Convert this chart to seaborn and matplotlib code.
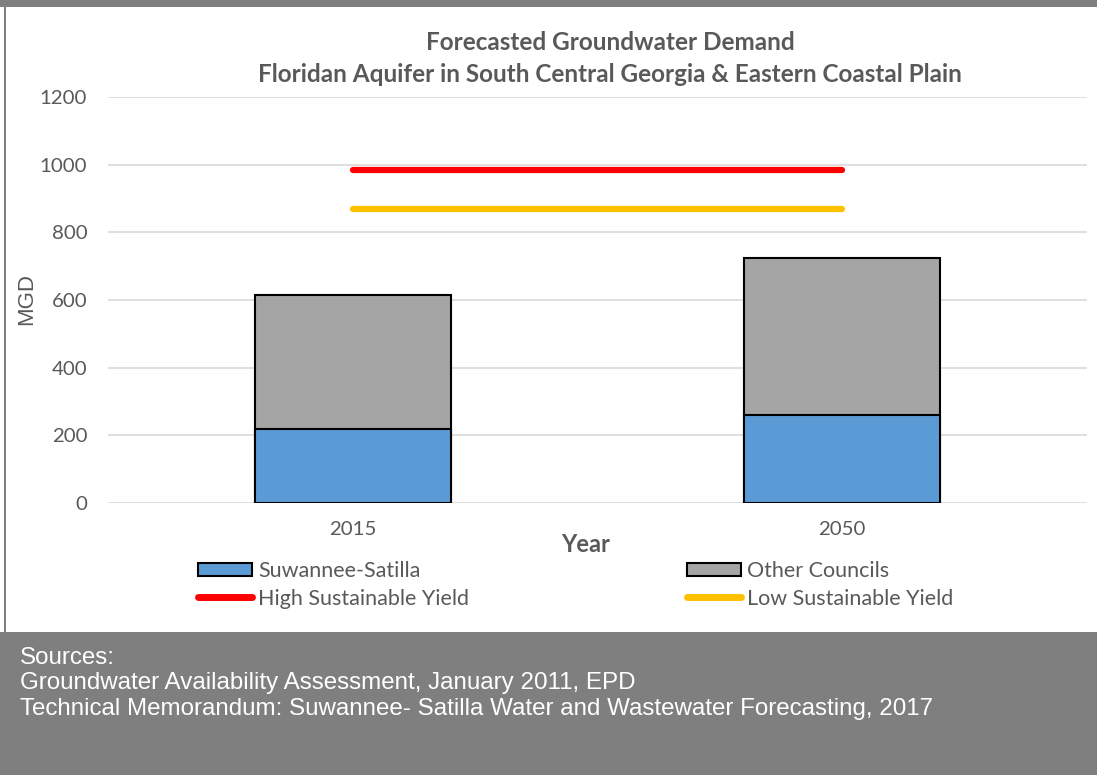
import numpy as np
import pandas as pd
import matplotlib.pyplot as plt
import seaborn as sns
from matplotlib.patches import Rectangle, Patch
from matplotlib.lines import Line2D

# datos
years = ["2015", "2050"]
suwannee = [219, 260]
other_councils = [396, 464]
high_yield = [984, 984]
low_yield = [869, 869]

df = pd.DataFrame({"Year": years, "Suwannee": suwannee, "Other": other_councils})
df["Total"] = df["Suwannee"] + df["Other"]

sns.set_theme(style="white")
plt.rcParams["font.family"] = ["Lato", "DejaVu Sans"]

W, H = 1097, 775
fig = plt.figure(figsize=(W / 100, H / 100), dpi=100)
fig.patch.set_facecolor("white")

# marco gris y pie
fig.patches.append(Rectangle((0, 0), 1, (H - 632) / H, transform=fig.transFigure,
                             facecolor="#7f7f7f", edgecolor="none", zorder=-4))
fig.patches.append(Rectangle((0, 1 - 7 / H), 1, 7 / H, transform=fig.transFigure,
                             facecolor="#7f7f7f", edgecolor="none", zorder=-4))
fig.patches.append(Rectangle((4 / W, 0), 2 / W, 1, transform=fig.transFigure,
                             facecolor="#7f7f7f", edgecolor="none", zorder=-4))

ax = fig.add_axes([108 / W, 1 - 503 / H, (1087 - 108) / W, (503 - 97) / H])
ax.set_facecolor("white")

sns.barplot(data=df, x="Year", y="Total", color="#a5a5a5", width=0.4,
            edgecolor="black", linewidth=1.5, saturation=1, ax=ax, zorder=3)
sns.barplot(data=df, x="Year", y="Suwannee", color="#5b9bd5", width=0.4,
            edgecolor="black", linewidth=1.5, saturation=1, ax=ax, zorder=3)

pos = np.arange(len(years))
sns.lineplot(x=pos, y=high_yield, color="#ff0000", linewidth=4.5,
             solid_capstyle="round", ax=ax, zorder=4)
sns.lineplot(x=pos, y=low_yield, color="#ffc000", linewidth=4.5,
             solid_capstyle="round", ax=ax, zorder=4)

ax.set_xlim(-0.5, 1.5)
ax.set_ylim(0, 1200)
ax.set_yticks(range(0, 1201, 200))
ax.yaxis.grid(True, color="#d9d9d9", linewidth=1.2)
ax.set_axisbelow(True)
for s in ax.spines.values():
    s.set_visible(False)
ax.tick_params(axis="both", length=0, labelsize=14.7, labelcolor="#595959")
ax.tick_params(axis="y", pad=15)
ax.tick_params(axis="x", pad=13)
ax.set_xlabel("")
ax.set_ylabel("")

fig.text(27 / W, 1 - 299 / H, "MGD", rotation=90, ha="center", va="center",
         fontsize=16, color="#595959", family=["Liberation Sans"])
fig.text(586 / W, 1 - 544 / H, "Year", ha="center", va="center",
         fontsize=17, fontweight="bold", color="#595959")
fig.text(610 / W, 1 - 43 / H, "Forecasted Groundwater Demand", ha="center",
         va="center", fontsize=17.5, fontweight="bold", color="#595959")
fig.text(610 / W, 1 - 75 / H,
         "Floridan Aquifer in South Central Georgia & Eastern Coastal Plain",
         ha="center", va="center", fontsize=17.5, fontweight="bold", color="#595959")

h_suw = Patch(facecolor="#5b9bd5", edgecolor="black", linewidth=1.5)
h_oth = Patch(facecolor="#a5a5a5", edgecolor="black", linewidth=1.5)
h_high = Line2D([], [], color="#ff0000", linewidth=5, solid_capstyle="round")
h_low = Line2D([], [], color="#ffc000", linewidth=5, solid_capstyle="round")

leg_kw = dict(loc="upper left", frameon=False, fontsize=15.5, labelcolor="#595959",
              handlelength=2.5, handleheight=0.6, handletextpad=0.3,
              labelspacing=0.35, borderpad=0, borderaxespad=0)
leg1 = fig.legend([h_suw, h_high], ["Suwannee-Satilla", "High Sustainable Yield"],
                  bbox_to_anchor=(198 / W, 1 - 561 / H), **leg_kw)
leg2 = fig.legend([h_oth, h_low], ["Other Councils", "Low Sustainable Yield"],
                  bbox_to_anchor=(687 / W, 1 - 561 / H), **leg_kw)

src = ["Sources:",
       "Groundwater Availability Assessment, January 2011, EPD",
       "Technical Memorandum: Suwannee- Satilla Water and Wastewater Forecasting, 2017"]
for i, line in enumerate(src):
    fig.text(20 / W, 1 - (664 + 25.5 * i) / H, line, ha="left", va="baseline",
             fontsize=17.4, color="white", family=["Liberation Sans"])

fig.savefig("out.png", dpi=100)
